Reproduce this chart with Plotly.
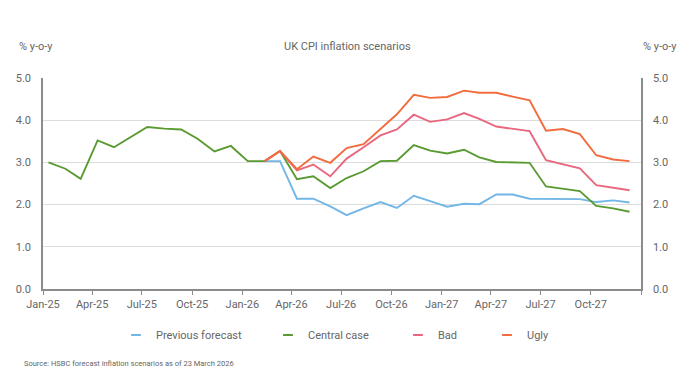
import pandas as pd
import plotly.graph_objects as go

# ---- data ----
months = pd.date_range("2025-01-01", periods=36, freq="MS")
tick_dates = pd.date_range("2025-01-01", periods=13, freq="3MS")
tick_labels = ["Jan-25", "Apr-25", "Jul-25", "Oct-25", "Jan-26", "Apr-26", "Jul-26",
               "Oct-26", "Jan-27", "Apr-27", "Jul-27", "Oct-27", ""]

previous_forecast = [None] * 13 + [3.03, 3.03, 2.14, 2.14, 1.96, 1.75, 1.91, 2.06, 1.92, 2.21,
                                   2.08, 1.95, 2.02, 2.01, 2.24, 2.24, 2.14, 2.14, 2.13, 2.13,
                                   2.06, 2.10, 2.05]
central_case = [3.00, 2.85, 2.61, 3.52, 3.36, 3.60, 3.84, 3.80, 3.78, 3.56, 3.26, 3.39, 3.03,
                3.03, 3.27, 2.60, 2.67, 2.39, 2.63, 2.79, 3.03, 3.04, 3.41, 3.28, 3.21, 3.30,
                3.12, 3.01, 3.00, 2.99, 2.43, 2.38, 2.32, 1.97, 1.91, 1.83]
bad = [None] * 13 + [3.03, 3.27, 2.81, 2.95, 2.67, 3.09, 3.36, 3.64, 3.78, 4.13, 3.96, 4.02,
                     4.17, 4.03, 3.85, 3.80, 3.74, 3.05, 2.96, 2.86, 2.46, 2.40, 2.34]
ugly = [None] * 13 + [3.03, 3.27, 2.84, 3.14, 2.99, 3.34, 3.43, 3.78, 4.14, 4.60, 4.53, 4.55,
                      4.70, 4.65, 4.65, 4.56, 4.47, 3.75, 3.79, 3.67, 3.17, 3.07, 3.03]

series_names = ["Previous forecast", "Central case", "Bad", "Ugly"]
series_values = [previous_forecast, central_case, bad, ugly]
series_colors = ["#72B7E6", "#5A9A32", "#E8677F", "#F26B3D"]

# ---- figure ----
W, H = 696, 390
FONT = "Roboto, Arial, sans-serif"
TXT = "#666666"
x_dates = months + pd.Timedelta(days=10)

fig = go.Figure()
for name, vals, col in zip(series_names, series_values, series_colors):
    fig.add_trace(go.Scatter(x=x_dates, y=vals, mode="lines", name=name,
                             line=dict(color=col, width=1.9), showlegend=False,
                             connectgaps=False))

# legend swatches (short dashes), one legend per entry
legend_centers = [140, 292, 422, 511]
legend_ids = ["legend", "legend2", "legend3", "legend4"]
for name, col, lid in zip(series_names, series_colors, legend_ids):
    fig.add_trace(go.Scatter(x=[None], y=[None], mode="markers", name=name, yaxis="y2",
                             marker=dict(symbol="line-ew", size=7,
                                         line=dict(color=col, width=2)),
                             legend=lid, showlegend=True))

legend_common = dict(orientation="h", xref="container", yref="container",
                     xanchor="left", yanchor="middle", y=(H - 335) / H,
                     font=dict(family=FONT, size=11, color=TXT),
                     bgcolor="rgba(0,0,0,0)", borderwidth=0)
layout_legends = {}
for lid, cx in zip(legend_ids, legend_centers):
    layout_legends[lid] = dict(legend_common, x=(cx - 24) / W)

axis_grey = "#8c8c8c"
yaxis_common = dict(range=[0, 5], dtick=1, tick0=0, tickformat=".1f",
                    tickfont=dict(family=FONT, size=11, color=TXT),
                    showline=True, linecolor=axis_grey, linewidth=1.5,
                    ticks="outside", ticklen=8, tickcolor="rgba(0,0,0,0)",
                    zeroline=False, fixedrange=True)

fig.update_layout(
    width=W, height=H,
    margin=dict(l=43, r=55, t=78, b=101, autoexpand=False),
    paper_bgcolor="white", plot_bgcolor="white",
    font=dict(family=FONT, size=11, color=TXT),
    xaxis=dict(type="date", range=[tick_dates[0], tick_dates[-1]],
               tickmode="array", tickvals=tick_dates, ticktext=tick_labels,
               tickfont=dict(family=FONT, size=11, color=TXT),
               showgrid=False, showline=True, linecolor=axis_grey, linewidth=1.5,
               ticks="outside", ticklen=4, tickcolor=axis_grey, tickwidth=1,
               zeroline=False),
    yaxis=dict(yaxis_common, showgrid=True, gridcolor="#dcdcdc", gridwidth=1.2),
    yaxis2=dict(yaxis_common, overlaying="y", side="right", showgrid=False),
    annotations=[
        dict(text="UK CPI inflation scenarios", xref="paper", yref="paper",
             x=0.5, xshift=5, y=1, yshift=32, yanchor="middle", showarrow=False,
             font=dict(family=FONT, size=11, color=TXT)),
        dict(text="% y-o-y", xref="paper", yref="paper", x=0, xshift=-26, y=1, yshift=32,
             xanchor="left", yanchor="middle", showarrow=False,
             font=dict(family=FONT, size=11, color=TXT)),
        dict(text="% y-o-y", xref="paper", yref="paper", x=1, y=1, yshift=32,
             xanchor="left", yanchor="middle", showarrow=False,
             font=dict(family=FONT, size=11, color=TXT)),
        dict(text="Source: HSBC forecast inflation scenarios as of 23 March 2026",
             xref="paper", yref="paper", x=0, xshift=-21, y=0, yshift=-74,
             xanchor="left", yanchor="middle", showarrow=False,
             font=dict(family=FONT, size=7.5, color=TXT)),
    ],
    **layout_legends,
)

fig.write_html("out.html",
               config={"displayModeBar": False},
               post_script="document.body.style.margin='0';document.body.style.padding='0';")
